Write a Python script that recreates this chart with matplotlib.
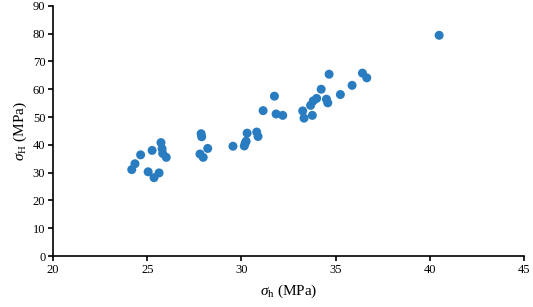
import matplotlib.pyplot as plt

# sigma_h (MPa) and sigma_H (MPa)
sigma_h = [24.18, 24.35, 24.65, 25.05, 25.26, 25.36, 25.63, 25.73, 25.79, 25.82,
           26.01, 27.80, 27.86, 27.89, 27.97, 28.21, 29.55, 30.15, 30.20, 30.25,
           30.30, 30.81, 30.88, 31.15, 31.75, 31.84, 32.19, 33.25, 33.32, 33.67,
           33.76, 33.81, 33.99, 34.23, 34.51, 34.58, 34.65, 35.25, 35.87, 36.42,
           36.65, 40.49]
sigma_H = [31.1, 33.2, 36.4, 30.3, 38.0, 28.2, 29.9, 40.8, 38.6, 36.9,
           35.5, 36.7, 44.0, 42.9, 35.5, 38.7, 39.5, 39.6, 40.6, 41.3,
           44.2, 44.6, 43.0, 52.3, 57.5, 51.1, 50.6, 52.2, 49.6, 54.2,
           50.6, 55.8, 56.7, 60.0, 56.4, 55.1, 65.4, 58.1, 61.4, 65.8,
           64.1, 79.4]

x_ticks = [20, 25, 30, 35, 40, 45]
y_ticks = [0, 10, 20, 30, 40, 50, 60, 70, 80, 90]

plt.rcParams['font.family'] = 'Liberation Serif'
plt.rcParams['mathtext.fontset'] = 'custom'
plt.rcParams['mathtext.rm'] = 'Liberation Serif'
plt.rcParams['mathtext.it'] = 'Liberation Serif:italic'

fig = plt.figure(figsize=(5.33, 3.07), dpi=100)
ax = fig.add_axes([0.0994, 0.166, 0.884, 0.815])

ax.scatter(sigma_h, sigma_H, s=42, color='#2a7cc0', edgecolors='none', zorder=3)

ax.set_xlim(20, 45)
ax.set_ylim(0, 90)
ax.set_xticks(x_ticks)
ax.set_yticks(y_ticks)

for side in ['top', 'right']:
    ax.spines[side].set_visible(False)
for side in ['left', 'bottom']:
    ax.spines[side].set_linewidth(1.2)
ax.tick_params(direction='out', length=3.5, width=1.2, labelsize=9, pad=2)

ax.set_xlabel(r'$\sigma_{\mathrm{h}}$ (MPa)', fontsize=11, labelpad=5)
ax.set_ylabel(r'$\sigma_{\mathrm{H}}$ (MPa)', fontsize=11, labelpad=3)

fig.savefig('out.png', dpi=100)
